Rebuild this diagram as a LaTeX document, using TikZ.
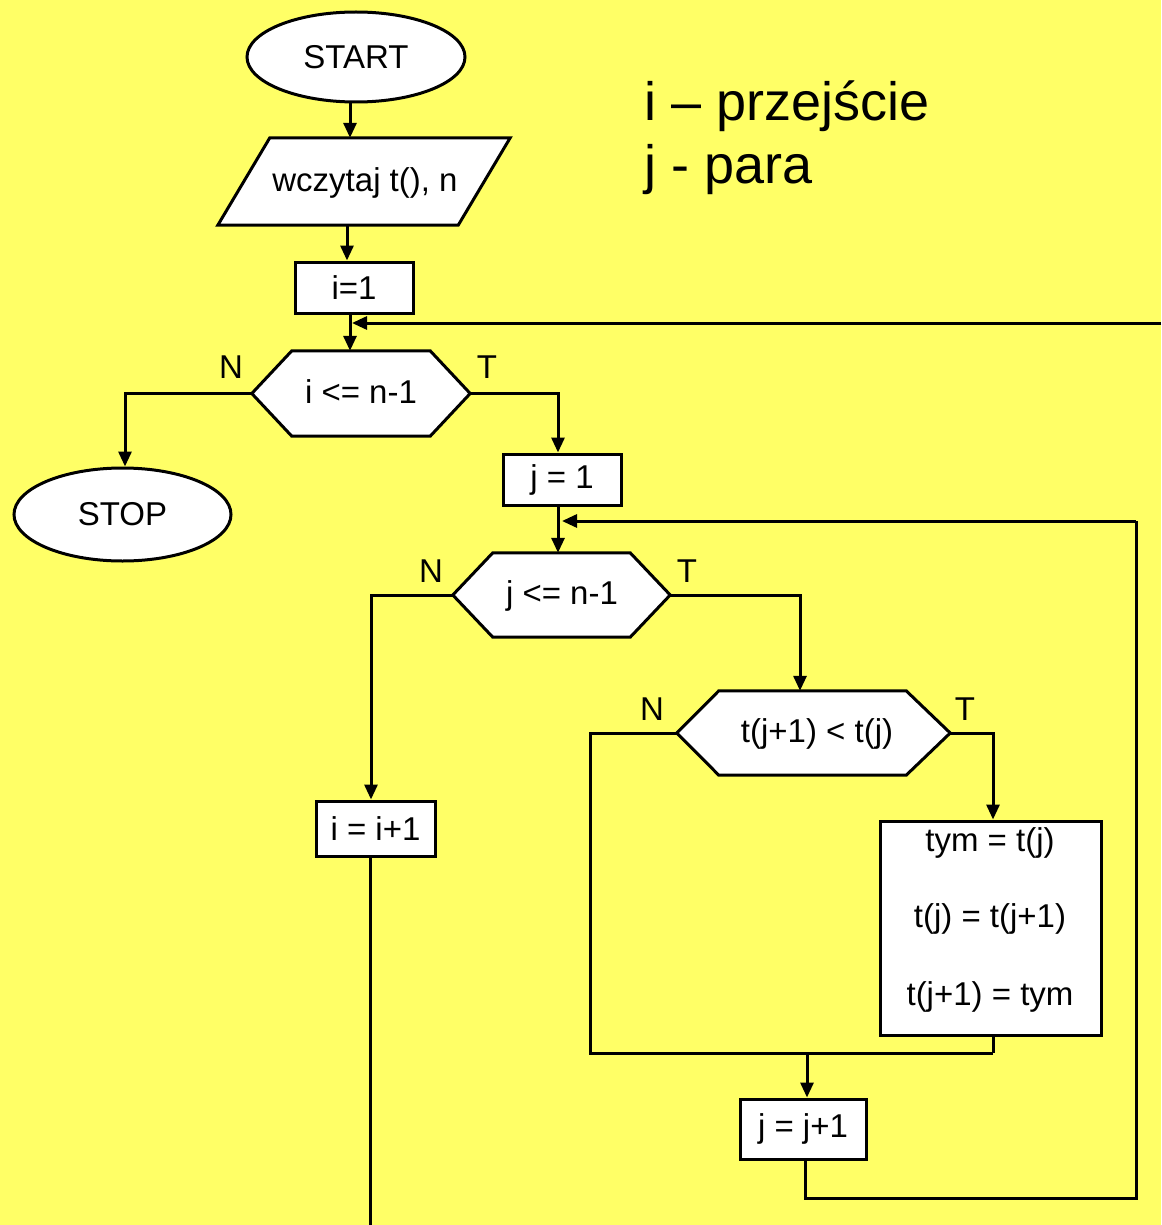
\documentclass[tikz,border=0pt]{standalone}
\usepackage{fontspec}
\setmainfont{Liberation Sans}
\usetikzlibrary{shapes.geometric,arrows.meta,calc}
\definecolor{bgyellow}{RGB}{255,255,102}
\begin{document}
\begin{tikzpicture}[x=1pt,y=-1pt,
  every node/.style={font=\fontsize{33}{38}\selectfont},
  line/.style={line width=3pt,line join=miter},
  arr/.style={line/.style, line width=3pt, -{Triangle[length=15pt,width=13pt]}},
  term/.style={ellipse,draw,line width=3pt,fill=white,inner sep=0pt},
  procbox/.style={rectangle,draw,line width=3pt,fill=white,inner sep=0pt},
  hexarea/.style={rectangle,inner sep=0pt},
  lbl/.style={font=\fontsize{33}{38}\selectfont}
]
\useasboundingbox (0,0) rectangle (1161,1225);
\fill[bgyellow] (0,0) rectangle (1161,1225);

% legend
\node[anchor=west,font=\fontsize{54}{62}\selectfont] (leg1) at (641,106) {i – przejście};
\node[anchor=west,font=\fontsize{54}{62}\selectfont] (leg2) at (641,170) {j - para};

% START
\node[term,minimum width=218,minimum height=90] (start) at (356,57) {START};

% input parallelogram
\node[hexarea,minimum width=292,minimum height=87] (inp) at (364,181.5) {};
\draw[line,fill=white] (inp.south west) -- ($(inp.north west)+(52,0)$) -- (inp.north east) -- ($(inp.south east)-(52,0)$) -- cycle;
\node (inptext) at (365,183) {wczytaj t(), n};

% i=1
\node[procbox,minimum width=118,minimum height=51] (i1) at (354,287.5) {i=1};

% hexagon 1
\node[hexarea,minimum width=218,minimum height=85] (h1) at (361,393.5) {};
\draw[line,fill=white] (h1.west) -- ($(h1.north west)+(40,0)$) -- ($(h1.north east)-(40,0)$) -- (h1.east) -- ($(h1.south east)-(40,0)$) -- ($(h1.south west)+(40,0)$) -- cycle;
\node (h1t) at (361,392) {i <= n-1};
\node[lbl] (h1N) at (231,367) {N};
\node[lbl] (h1T) at (487,367) {T};

% STOP
\node[term,minimum width=217,minimum height=93] (stop) at (122.5,514.5) {STOP};

% j=1
\node[procbox,minimum width=118,minimum height=51] (j1) at (562,479.5) {j = 1};

% hexagon 2
\node[hexarea,minimum width=217,minimum height=84] (h2) at (561.5,595) {};
\draw[line,fill=white] (h2.west) -- ($(h2.north west)+(40,0)$) -- ($(h2.north east)-(40,0)$) -- (h2.east) -- ($(h2.south east)-(40,0)$) -- ($(h2.south west)+(40,0)$) -- cycle;
\node (h2t) at (562,596) {j <= n-1};
\node[lbl] (h2N) at (431,571) {N};
\node[lbl] (h2T) at (687,571) {T};

% i=i+1
\node[procbox,minimum width=119,minimum height=55] (ii) at (375.5,828.5) {i = i+1};

% hexagon 3
\node[hexarea,minimum width=273,minimum height=84] (h3) at (813.5,733) {};
\draw[line,fill=white] (h3.west) -- ($(h3.north west)+(42,0)$) -- ($(h3.north east)-(44,0)$) -- (h3.east) -- ($(h3.south east)-(44,0)$) -- ($(h3.south west)+(42,0)$) -- cycle;
\node (h3t) at (817,734) {t(j+1) < t(j)};
\node[lbl] (h3N) at (652,709) {N};
\node[lbl] (h3T) at (965,709) {T};

% swap box
\node[procbox,minimum width=221,minimum height=214] (sw) at (990.5,928) {};
\node (sw1) at (990,843) {tym = t(j)};
\node (sw2) at (990,919) {t(j) = t(j+1)};
\node (sw3) at (990,997) {t(j+1) = tym};

% j=j+1
\node[procbox,minimum width=126,minimum height=60] (jj) at (803,1129) {j = j+1};

% helper coordinates
\coordinate (xa) at (350,0);
\coordinate (xb) at (347,0);
\coordinate (xc) at (558,0);
\coordinate (xd) at (371,0);
\coordinate (xe) at (800,0);
\coordinate (xf) at (993,0);
\coordinate (xg) at (807,0);
\coordinate (xh) at (805,0);
\coordinate (loop1) at (1161,323);
\coordinate (loop2) at (1136,521);
\coordinate (nleft3) at (590,733);
\coordinate (merge) at (993,1053);
\coordinate (bot1) at (370,1225);
\coordinate (bot2) at (805,1198);

% connectors
\draw[arr] (start.south -| xa) -- (inp.north -| xa);
\draw[arr] (inp.south -| xb) -- (i1.north -| xb);
\draw[arr] (i1.south -| xa) -- (h1.north -| xa);
\draw[arr] (loop1) -- (loop1 -| 352,0);
\draw[arr] (h1.west) -| (stop.north -| 125,0);
\draw[arr] (h1.east) -| (j1.north -| xc);
\draw[arr] (j1.south -| xc) -- (h2.north -| xc);
\draw[arr] (h2.west) -| (ii.north -| xd);
\draw[arr] (h2.east) -| (h3.north -| xe);
\draw[arr] (h3.east) -| (sw.north -| xf);
\draw[line] (h3.west) -- (nleft3) |- (merge);
\draw[line] (sw.south -| xf) -- (merge);
\draw[arr] (merge -| xg) -- (jj.north -| xg);
\draw[line] (jj.south -| xh) -- (bot2) -| (loop2);
\draw[arr] (loop2) -- (loop2 -| 562,0);
\draw[line] (ii.south -| 370,0) -- (bot1);
\end{tikzpicture}
\end{document}
